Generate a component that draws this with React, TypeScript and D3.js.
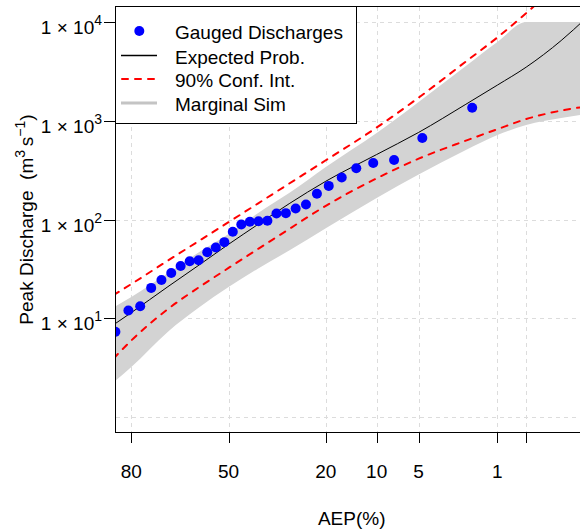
import React from "react";
import * as d3 from "d3";

// ---------- data ----------
// Gauged discharges: AEP (%) plotting positions and peak discharge (m3/s)
const obsAEP = [1.75, 4.68, 7.60, 10.53, 13.45, 16.37, 19.30, 22.22, 25.15, 28.07, 30.99, 33.92, 36.84, 39.77, 42.69, 45.61, 48.54, 51.46, 54.39, 57.31, 60.23, 63.16, 66.08, 69.01, 71.93, 74.85, 77.78, 80.70, 83.63];
const obsQ = [1354, 668, 400, 373, 330, 266, 219, 182, 142, 129, 116, 115, 97, 96, 95, 89, 75, 59, 52, 46.6, 38.6, 37.7, 33.8, 28.7, 24.4, 20.3, 13.2, 12.0, 7.3];

// curve grid (AEP %)
const curveAEP = [84, 80, 70, 60, 50, 40, 30, 20, 10, 5, 2, 1, 0.5, 0.2, 0.1];
const expectedQ = [8.6, 11.4, 20.9, 34.7, 56.1, 89, 144.5, 244, 455, 762, 1469, 2296, 3491, 6486, 10840];
const upper90Q = [17.2, 22.2, 38.4, 61, 94, 145, 231, 398, 853, 1714, 3980, 6980, 12300, 25600, 40000];
const lower90Q = [3.92, 5.96, 12.4, 20.7, 32.3, 50.2, 80.1, 137.7, 261, 413, 629, 821, 1040, 1267, 1393];
const simUpperQ = [12.9, 16.4, 28.7, 46.9, 71.3, 116, 185, 340, 752, 1550, 3590, 6270, 10000, 10000, 10000];
const simLowerQ = [2.25, 3.2, 7.3, 12.9, 20.7, 31.8, 48.5, 81.5, 165, 285, 505, 716, 904, 1064, 1170];

// axes
const xTicks = [80, 50, 20, 10, 5, 1, 0.5];
const xTickLabels = ["80", "50", "20", "10", "5", "1", ""];
const yGrid = [1, 10, 100, 1000, 10000];
const yTickExps = [1, 2, 3, 4];
const xLimitsAEP = [83.5, 0.095];
const yLimits = [Math.pow(10, -0.152), Math.pow(10, 4.152)];

const legendItems = ["Gauged Discharges", "Expected Prob.", "90% Conf. Int.", "Marginal Sim"];

// ---------- helpers ----------
function qnorm(p: number): number {
  const a = [-3.969683028665376e1, 2.209460984245205e2, -2.759285104469687e2, 1.38357751867269e2, -3.066479806614716e1, 2.506628277459239];
  const b = [-5.447609879822406e1, 1.615858368580409e2, -1.556989798598866e2, 6.680131188771972e1, -1.328068155288572e1];
  const c = [-7.784894002430293e-3, -3.223964580411365e-1, -2.400758277161838, -2.549732539343734, 4.374664141464968, 2.938163982698783];
  const d = [7.784695709041462e-3, 3.224671290700398e-1, 2.445134137142996, 3.754408661907416];
  const plow = 0.02425;
  const phigh = 1 - plow;
  if (p < plow) {
    const q = Math.sqrt(-2 * Math.log(p));
    return (((((c[0] * q + c[1]) * q + c[2]) * q + c[3]) * q + c[4]) * q + c[5]) / ((((d[0] * q + d[1]) * q + d[2]) * q + d[3]) * q + 1);
  }
  if (p <= phigh) {
    const q = p - 0.5;
    const r = q * q;
    return ((((((a[0] * r + a[1]) * r + a[2]) * r + a[3]) * r + a[4]) * r + a[5]) * q) / (((((b[0] * r + b[1]) * r + b[2]) * r + b[3]) * r + b[4]) * r + 1);
  }
  const q = Math.sqrt(-2 * Math.log(1 - p));
  return -(((((c[0] * q + c[1]) * q + c[2]) * q + c[3]) * q + c[4]) * q + c[5]) / ((((d[0] * q + d[1]) * q + d[2]) * q + d[3]) * q + 1);
}
const zOf = (aep: number) => qnorm(1 - aep / 100);

const L = 116, R = 587.4, T = 7, B = 432;

export default function App() {
  const x = d3.scaleLinear().domain(xLimitsAEP.map(zOf)).range([L, R]);
  const y = d3.scaleLog().domain(yLimits).range([B, T]);
  const X = (aep: number) => x(zOf(aep));

  const line = d3
    .line<[number, number]>()
    .x((d) => X(d[0]))
    .y((d) => y(d[1]))
    .curve(d3.curveMonotoneX);

  const pairs = (vals: number[]) => curveAEP.map((a, i) => [a, vals[i]] as [number, number]);

  const area = d3
    .area<number>()
    .x((i) => X(curveAEP[i]))
    .y0((i) => y(simLowerQ[i]))
    .y1((i) => y(simUpperQ[i]))
    .curve(d3.curveMonotoneX);

  const font = "'Liberation Sans', Arial, sans-serif";
  const legendY = [31, 55.5, 79, 103];

  return (
    <svg width={580} height={532} style={{ position: "absolute", left: 0, top: 0, background: "#fff" }} fontFamily={font}>
      <defs>
        <clipPath id="plotClip">
          <rect x={L} y={T} width={R - L} height={B - T} />
        </clipPath>
      </defs>
      <rect x={0} y={0} width={580} height={532} fill="#fff" />
      {/* grid */}
      <g stroke="#dcdcdc" strokeWidth={1} strokeDasharray="4,4">
        {yGrid.map((v) => (
          <line key={"gy" + v} x1={L} x2={R} y1={Math.round(y(v)) + 0.5} y2={Math.round(y(v)) + 0.5} />
        ))}
        {xTicks.map((a) => (
          <line key={"gx" + a} x1={Math.round(X(a)) + 0.5} x2={Math.round(X(a)) + 0.5} y1={T} y2={B} />
        ))}
      </g>
      <g clipPath="url(#plotClip)">
        <path d={area(d3.range(curveAEP.length)) || ""} fill="#d3d3d3" />
        <path d={line(pairs(upper90Q)) || ""} fill="none" stroke="#ff0000" strokeWidth={2} strokeDasharray="6,7" strokeLinecap="round" />
        <path d={line(pairs(lower90Q)) || ""} fill="none" stroke="#ff0000" strokeWidth={2} strokeDasharray="6,7" strokeLinecap="round" />
        <path d={line(pairs(expectedQ)) || ""} fill="none" stroke="#000" strokeWidth={1} />
        {obsAEP.map((a, i) => (
          <circle key={"p" + i} cx={X(a)} cy={y(obsQ[i])} r={5} fill="#0000ff" />
        ))}
      </g>
      {/* box */}
      <rect x={L - 0.5} y={T - 0.5} width={R - L + 1} height={B - T + 1} fill="none" stroke="#000" strokeWidth={1} />
      {/* x axis ticks */}
      <g>
        {xTicks.map((a, i) => (
          <g key={"xt" + a}>
            <line x1={Math.round(X(a)) + 0.5} x2={Math.round(X(a)) + 0.5} y1={B} y2={B + 11} stroke="#000" />
            <text x={X(a)} y={478} textAnchor="middle" fontSize={19} fill="#000">
              {xTickLabels[i]}
            </text>
          </g>
        ))}
        <text x={(L + R) / 2} y={525} textAnchor="middle" fontSize={19}>
          AEP(%)
        </text>
      </g>
      {/* y axis ticks */}
      <g>
        {yTickExps.map((e) => {
          const yy = y(Math.pow(10, e));
          return (
            <g key={"yt" + e}>
              <line x1={L - 12} x2={L} y1={Math.round(yy) + 0.5} y2={Math.round(yy) + 0.5} stroke="#000" />
              <text x={102} y={yy + 12} textAnchor="end" fontSize={19}>
                {"1 \u00d7 10"}
                <tspan dy={-9} fontSize={14}>
                  {String(e)}
                </tspan>
              </text>
            </g>
          );
        })}
        <text transform={`translate(33,${(T + B) / 2}) rotate(-90)`} textAnchor="middle" fontSize={19}>
          {"Peak Discharge\u00a0\u00a0(m"}
          <tspan dy={-8} fontSize={14}>3</tspan>
          <tspan dy={8}>{"\u2009s"}</tspan>
          <tspan dy={-8} fontSize={14}>{"\u22121"}</tspan>
          <tspan dy={8}>{")"}</tspan>
        </text>
      </g>
      {/* legend */}
      <g>
        <rect x={L - 0.5} y={T - 0.5} width={241} height={117} fill="#fff" stroke="#000" strokeWidth={1} />
        <circle cx={139.3} cy={legendY[0]} r={5} fill="#0000ff" />
        <line x1={121} x2={157} y1={legendY[1]} y2={legendY[1]} stroke="#000" strokeWidth={1.5} />
        <line x1={122} x2={157} y1={legendY[2]} y2={legendY[2]} stroke="#ff0000" strokeWidth={2} strokeDasharray="6,7" strokeLinecap="round" />
        <line x1={121} x2={157} y1={legendY[3]} y2={legendY[3]} stroke="#c4c4c4" strokeWidth={3} />
        {legendItems.map((t, i) => (
          <text key={t} x={175} y={legendY[i] + 8} fontSize={19}>
            {t}
          </text>
        ))}
      </g>
    </svg>
  );
}
